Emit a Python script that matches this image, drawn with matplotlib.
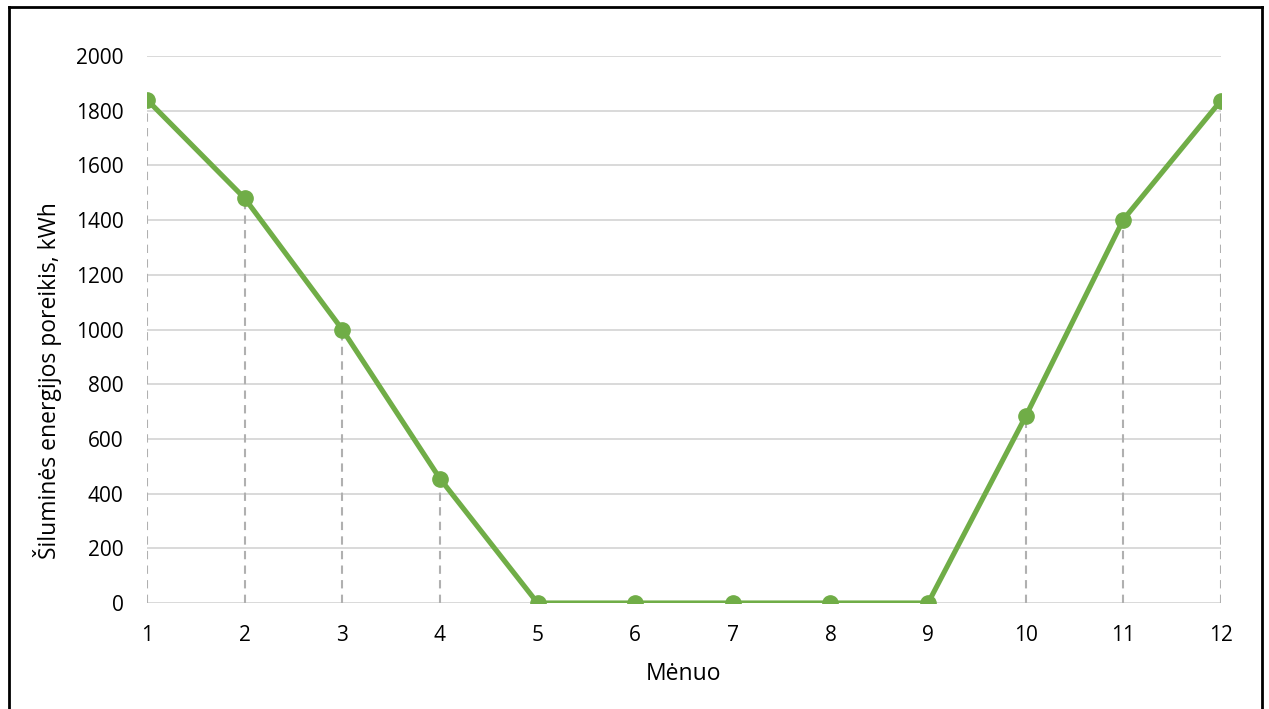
import numpy as np
import matplotlib.pyplot as plt
from matplotlib.lines import Line2D

plt.rcParams['font.family'] = ['Open Sans', 'DejaVu Sans']

# monthly heat demand, kWh
menuo = [1, 2, 3, 4, 5, 6, 7, 8, 9, 10, 11, 12]
poreikis = [1840, 1480, 1000, 455, 0, 0, 0, 0, 0, 683, 1402, 1837]
y_ticks = [0, 200, 400, 600, 800, 1000, 1200, 1400, 1600, 1800, 2000]

W, H = 1269, 709
fig = plt.figure(figsize=(W / 100, H / 100), dpi=100)
ax = fig.add_axes([147 / W, 1 - 603 / H, 1074 / W, 547 / H])

for y in y_ticks:
    ax.axhline(y, color='#d9d9d9', lw=1.4, zorder=0)

# drop lines from each point to the x axis
ax.vlines(menuo, 0, poreikis, colors='#b0b0b0', linestyles=(0, (4, 3)), lw=1.5, zorder=1)

ax.plot(menuo, poreikis, color='#70ad47', lw=3.7, marker='o', markersize=11,
        solid_capstyle='round', zorder=3)

ax.set_xlim(1, 12)
ax.set_ylim(0, 2000)
ax.set_xticks(menuo)
ax.set_yticks(y_ticks)
ax.tick_params(length=0, labelsize=15, colors='#000000')
ax.tick_params(axis='y', pad=17)
ax.tick_params(axis='x', pad=16)
for s in ax.spines.values():
    s.set_visible(False)

fig.text(684 / W, 1 - 674 / H, 'Mėnuo', ha='center', va='center', fontsize=16.5)
fig.text(48 / W, 1 - 381 / H, 'Šiluminės energijos poreikis, kWh', ha='center', va='center',
         rotation=90, fontsize=16.5)

# chart frame (open at the bottom)
for xs, ys in [([9, 9], [7, H]), ([9, 1262], [7, 7]), ([1262, 1262], [7, H])]:
    fig.add_artist(Line2D([x / W for x in xs], [1 - y / H for y in ys],
                          transform=fig.transFigure, color='black', lw=2))

fig.savefig('out.png', dpi=100)
